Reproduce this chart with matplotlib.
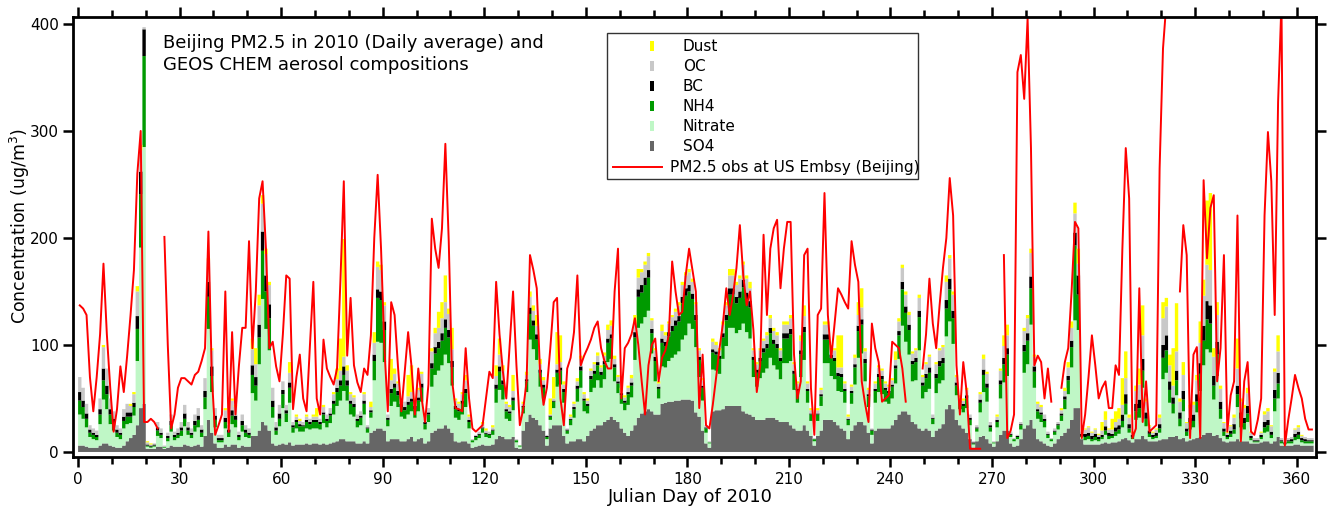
import numpy as np
import matplotlib
matplotlib.use("Agg")
import matplotlib.pyplot as plt
from matplotlib.patches import Rectangle
from matplotlib.lines import Line2D
from matplotlib.ticker import MultipleLocator

# GEOS-Chem daily aerosol components (ug/m3), day 0..364
so4 = [6,6,5,4,4,4,6,8,8,6, 5,4,4,6,10,13,16,25,41,45, 3,3,3,5,5,3,4,6,5,5,
       5,7,6,5,6,7,5,15,30,18, 8,4,4,7,5,7,7,4,6,5, 5,15,15,20,28,25,20,8,6,7,
       8,7,9,6,7,7,7,8,7,8, 8,7,8,7,8,9,10,12,12,10, 10,10,8,8,10,8,18,20,22,22,
       20,10,12,12,12,10,10,12,14,10, 12,13,8,10,18,20,22,22,25,22, 18,10,9,10,10,8,4,5,6,7,
       6,6,7,12,15,14,12,12,14,4, 3,20,28,35,32,30,25,20,6,22, 25,25,25,15,8,10,10,12,12,10,
       15,20,22,25,25,28,30,33,30,28, 22,18,15,20,25,32,36,38,40,38, 35,35,45,46,47,47,48,48,49,49,
       49,48,37,33,20,8,4,38,39,39, 40,43,43,43,43,43,38,36,35,33, 30,30,30,32,32,32,30,28,28,28,
       25,22,20,20,25,20,15,6,15,20, 30,30,30,28,25,22,20,12,20,25, 28,28,25,18,8,20,22,22,22,22,
       25,30,35,38,38,35,28,26,22,20, 22,20,14,20,22,26,40,44,40,30, 25,22,18,12,4,10,14,15,12,8,
       5,10,16,20,20,8,5,6,12,22, 25,30,22,12,10,8,6,5,8,12, 15,18,22,30,41,41,12,7,7,7,
       7,7,8,9,8,9,9,10,12,13, 11,9,12,12,15,12,10,10,10,11, 12,12,14,14,15,12,13,10,11,12,
       13,14,16,18,18,15,16,13,10,9, 10,10,12,10,10,10,8,8,8,9, 10,10,8,10,14,6,6,6,6,7,
       7,6,6,6,6]

nitrate = [29,25,18,10,8,7,20,41,32,20, 15,10,8,16,16,14,18,60,150,240, 2,1,2,10,8,1,6,13,6,8,
           10,17,10,8,13,16,9,25,85,38, 15,5,5,15,9,19,16,7,13,9, 8,40,33,62,115,90,75,24,10,17,
           33,21,37,12,15,12,12,14,14,14, 14,14,19,16,19,26,33,36,45,38, 25,23,15,17,25,10,14,47,81,80,
           64,14,31,35,30,23,21,23,24,22, 26,34,13,18,43,52,54,59,66,61, 44,22,21,25,32,14,5,6,7,11,
           8,7,9,34,43,35,19,17,25,5, 2,16,28,70,64,56,36,30,6,8, 16,36,38,31,9,15,22,35,48,28,
           21,36,38,42,35,40,54,54,36,27, 23,21,29,31,61,84,84,88,92,54, 31,15,35,33,38,41,43,46,56,60,
           71,67,61,37,28,10,4,39,37,34, 47,56,73,73,68,71,82,76,71,37, 31,39,44,46,56,49,47,40,55,55,
           60,36,26,50,61,26,14,4,14,23, 53,53,41,40,32,34,26,13,25,38, 60,64,41,24,8,26,34,32,25,23,
           25,34,52,80,65,56,38,41,73,30, 34,39,12,35,42,41,68,78,61,23, 15,15,23,13,3,9,23,41,35,11,
           3,13,34,45,51,6,5,6,9,52, 57,89,38,19,18,15,7,5,8,9, 14,22,32,49,82,73,2,4,5,3,
           4,3,4,7,4,4,6,7,11,22, 7,3,18,20,45,12,4,2,3,7, 56,62,32,22,38,12,25,5,10,11,
           24,43,65,78,75,34,55,18,5,3, 4,7,30,13,11,18,3,1,1,3, 8,9,5,28,36,2,1,2,2,4,
           5,3,2,2,2]

nh4 = [13,11,8,4,4,3,9,18,14,9, 7,4,4,7,7,6,8,30,50,85, 1,1,1,5,3,1,3,6,3,3,
       5,7,4,3,6,7,4,11,30,15, 7,2,2,6,4,8,7,3,6,4, 3,17,14,25,45,35,30,10,4,7,
       13,8,14,5,6,5,5,6,5,6, 6,5,8,6,7,10,13,14,15,14, 10,9,6,7,10,4,5,18,41,40,
       30,6,12,13,11,9,8,9,9,8, 10,13,5,7,17,20,21,23,25,24, 17,8,8,10,13,6,2,3,3,4,
       3,3,4,13,17,14,7,7,9,2, 1,6,10,24,22,19,13,10,2,3, 6,13,13,10,3,5,8,12,16,10,
       7,12,13,14,12,14,18,19,13,9, 8,7,10,11,21,29,29,30,31,19, 19,9,22,20,23,25,27,28,34,37,
       30,28,25,16,12,4,1,16,15,14, 20,24,31,31,28,30,34,31,29,16, 13,16,19,19,23,20,20,17,23,23,
       25,15,11,21,26,11,6,2,6,9, 22,22,17,17,14,14,11,5,10,16, 25,27,17,10,4,11,14,14,11,10,
       11,14,22,34,27,23,16,17,31,12, 13,15,5,14,16,16,26,30,24,9, 6,6,9,5,1,3,9,16,13,4,
       1,5,13,17,20,2,2,2,4,20, 22,34,15,7,7,6,3,2,3,4, 5,9,13,19,70,33,1,3,3,2,
       3,2,2,4,3,2,4,4,6,10, 4,2,8,9,16,7,3,2,2,4, 20,21,12,9,14,7,11,4,6,6,
       10,16,23,28,27,13,20,9,4,2, 3,4,12,8,6,8,2,1,1,2, 5,6,3,12,14,2,1,2,2,3,
       4,2,2,2,2]

bc = [8,6,5,3,2,2,5,11,8,5, 4,3,2,4,4,4,4,12,21,25, 1,1,1,3,2,0,2,4,2,2,
      3,5,3,2,4,4,3,6,14,9, 4,2,2,4,3,5,4,2,4,3, 2,9,8,12,18,15,13,6,3,5,
      4,3,5,2,2,2,1,2,2,2, 2,2,2,2,2,3,4,5,8,5, 3,3,2,2,3,1,2,6,8,8,
      8,2,4,4,4,3,3,3,3,3, 3,4,2,2,5,6,6,7,8,7, 6,3,2,3,4,2,0,1,1,1,
      1,1,1,4,5,4,2,2,3,0, 0,1,2,6,5,5,3,3,1,1, 1,3,3,3,1,1,2,3,4,2,
      2,3,3,3,3,3,4,4,3,2, 2,2,2,3,5,7,7,7,7,4, 4,2,4,4,4,5,5,5,6,7,
      6,5,5,3,2,1,0,3,3,3, 4,5,6,6,6,6,7,6,6,3, 3,3,4,4,5,4,4,3,5,5,
      5,3,2,4,5,2,1,0,1,2, 5,5,3,3,3,3,2,1,2,3, 5,5,4,2,1,2,3,3,2,2,
      2,3,4,7,6,5,3,4,6,3, 4,5,1,4,5,5,8,10,7,3, 2,2,3,2,1,1,3,5,4,2,
      0,2,4,6,6,1,0,1,1,6, 7,11,5,2,2,2,1,0,1,1, 2,3,4,6,12,18,2,3,3,3,
      3,2,2,4,3,2,4,4,6,9, 4,2,7,8,11,6,3,2,3,4, 12,14,8,6,9,6,8,3,5,6,
      7,10,14,17,17,9,12,7,3,2, 3,5,8,6,5,7,2,1,1,2, 5,5,3,8,10,1,1,1,2,3,
      3,2,2,1,1]

oc = [14,12,9,4,4,4,10,20,16,10, 7,4,4,7,8,6,8,23,20,2, 2,1,1,5,4,1,3,6,3,4,
      5,8,5,4,6,7,4,12,20,15, 7,3,3,7,4,9,8,3,6,4, 4,15,12,18,26,20,18,12,5,8,
      8,5,9,3,3,3,3,3,3,3, 3,3,5,4,5,6,8,9,9,9, 6,6,4,4,6,2,3,11,21,20,
      15,3,8,9,7,5,5,5,6,5, 7,9,3,4,11,13,13,14,16,15, 11,5,5,6,8,3,1,1,2,3,
      2,2,2,8,11,9,5,4,6,1, 0,2,4,10,9,8,5,4,1,1, 2,5,5,4,1,2,3,4,7,4,
      3,5,6,6,4,5,8,8,5,4, 3,3,4,4,8,11,12,12,13,8, 6,3,7,6,8,8,8,10,11,12,
      12,11,10,6,5,2,1,7,6,5, 8,9,12,12,11,12,14,13,12,6, 5,7,7,8,9,8,8,7,8,8,
      10,6,5,9,10,5,3,1,3,4, 9,9,7,7,5,6,5,2,4,6, 10,11,7,4,1,5,6,5,4,4,
      4,5,9,13,11,9,7,7,12,5, 9,10,3,9,10,10,17,19,15,5, 3,3,5,3,1,2,5,10,9,3,
      1,3,9,11,12,2,1,1,2,13, 14,22,9,5,5,4,2,1,2,2, 3,5,8,12,18,11,2,4,5,3,
      4,2,4,6,3,4,5,6,9,15, 6,2,12,14,22,10,4,2,3,6, 25,27,15,11,18,10,15,5,9,9,
      13,19,28,34,33,18,25,12,5,2, 4,6,16,10,9,12,3,2,2,2, 7,8,5,17,20,2,1,2,2,4,
      4,2,2,2,2]

dust = [0,0,0,0,0,0,0,2,0,0, 0,0,0,0,0,2,2,5,5,0, 1,1,0,0,0,0,0,0,0,0,
        0,0,0,0,0,0,0,0,2,2, 0,0,0,2,0,2,2,0,0,0, 0,10,15,10,8,5,3,0,0,0,
        0,0,10,0,2,2,0,2,0,2, 8,0,2,0,0,2,10,30,110,5, 2,2,0,0,2,0,5,10,5,5,
        3,0,20,5,2,0,0,20,25,2, 2,2,0,0,3,5,15,15,25,5, 20,2,2,2,5,2,0,0,0,2,
        2,0,2,10,15,5,2,2,15,0, 0,2,3,5,5,10,5,3,0,15, 20,30,25,3,0,2,2,3,3,2,
        2,2,2,3,2,3,5,5,3,2, 2,2,2,3,8,8,3,3,3,2, 2,2,6,3,2,2,3,3,3,3,
        3,3,2,2,2,0,0,3,3,2, 3,3,6,6,3,3,3,3,6,2, 2,2,2,3,3,3,3,2,3,3,
        3,2,2,5,10,2,2,0,2,2, 3,3,2,2,30,30,2,2,2,3, 12,18,3,2,0,2,2,2,2,2,
        2,8,3,3,3,3,2,2,3,2, 2,2,0,2,2,2,6,3,3,2, 2,2,2,0,0,0,2,4,2,0,
        0,2,2,10,10,0,0,0,0,3, 3,4,2,2,2,0,0,0,0,0, 2,3,5,6,10,14,0,1,1,1,
        1,1,8,8,1,10,10,10,25,25, 3,1,5,15,28,3,1,1,1,3, 15,8,10,35,45,3,12,1,3,3,
        5,20,15,60,72,8,12,3,1,1, 1,3,28,3,3,5,1,0,0,1, 3,3,1,3,15,0,0,0,0,1,
        2,1,0,0,0]

nan = float("nan")
# PM2.5 observed at US Embassy (daily mean, ug/m3); nan = missing
pm25 = [137,134,128,70,38,70,110,176,110,60, 19,40,80,56,90,128,170,260,300,28,
        28,31,28,22,nan,201,100,22,35,60, 69,69,66,63,72,75,85,97,206,72,
        16,25,35,150,19,112,35,80,116,116, 197,97,150,237,253,190,97,103,80,66,
        110,165,162,40,70,91,50,38,100,159, 50,35,105,78,70,63,78,160,253,90,
        144,81,65,56,78,72,109,200,259,190, 97,38,140,128,80,38,75,112,80,35,
        78,50,28,63,218,190,172,209,288,197, 66,41,40,38,97,50,22,19,22,25,
        50,75,69,159,110,75,50,100,150,81, 25,40,66,184,170,153,72,44,60,97,
        140,144,50,25,78,88,112,165,81,90, 97,105,116,122,97,85,78,78,150,190,
        50,97,102,110,125,100,66,35,81,100, 106,66,88,95,109,178,150,128,131,165,
        190,170,150,41,91,25,22,44,70,97, 120,153,128,147,172,212,165,137,150,114,
        56,81,203,128,190,209,217,153,190,215, 215,91,50,66,184,190,60,16,128,134,
        242,128,88,120,153,147,140,134,197,175, 159,66,45,28,120,97,84,47,50,53,
        103,100,97,78,47,nan,nan,nan,nan,78, 110,162,120,97,137,172,200,256,221,81,
        35,84,56,3,3,3,3,nan,nan,nan, nan,nan,nan,184,13,20,35,355,371,330,
        405,284,81,90,84,50,78,47,nan,nan, 60,84,97,150,215,209,13,35,70,109,
        81,50,60,66,41,41,81,72,190,284, 237,13,22,153,28,66,19,22,25,265,
        377,420,nan,nan,nan,150,212,184,13,91, 98,13,254,181,228,240,66,97,184,19,
        53,66,221,10,66,84,19,16,30,50, 221,299,253,128,327,420,6,30,50,72,
        60,50,31,21,21]

layers = [("SO4", so4, "#666666"), ("Nitrate", nitrate, "#bff7c6"),
          ("NH4", nh4, "#009a00"), ("BC", bc, "#000000"),
          ("OC", oc, "#c8c8c8"), ("Dust", dust, "#ffff00")]

W, H = 1333, 511
fig = plt.figure(figsize=(W / 100, H / 100), dpi=100)
ax = fig.add_axes([73 / W, 1 - 457 / H, (1316 - 73) / W, (457 - 17) / H])

def px(x, y):
    # pixel position -> figure fraction
    return x / W, 1 - y / H

edges = np.arange(len(so4) + 1)
base = np.zeros(len(so4))
for name, vals, col in layers:
    top = base + np.array(vals, dtype=float)
    ax.stairs(top, edges, baseline=base, fill=True, color=col, lw=0)
    base = top

ax.plot(np.arange(len(pm25)) + 0.5, pm25, color="#ff0000", lw=1.4)

ax.set_xlim(-1.5, 365.7)
ax.set_ylim(-4.7, 406.5)
ax.xaxis.set_major_locator(MultipleLocator(30))
ax.xaxis.set_minor_locator(MultipleLocator(10))
ax.yaxis.set_major_locator(MultipleLocator(100))
ax.tick_params(axis="both", which="both", direction="out", width=1.8, labelsize=11)
ax.tick_params(axis="x", which="major", length=7, top=True, bottom=True, pad=4)
ax.tick_params(axis="x", which="minor", length=5, top=True, bottom=True)
ax.tick_params(axis="y", which="major", length=7, left=True, right=True, pad=3)
for s in ax.spines.values():
    s.set_linewidth(2)

fig.text(*px(20, 226), "Concentration (ug/m$^{3}$)", rotation=90,
         ha="center", va="center", fontsize=12.5)
fig.text(*px(690, 497), "Julian Day of 2010", ha="center", va="center", fontsize=13)
fig.text(*px(163, 34), "Beijing PM2.5 in 2010 (Daily average) and\nGEOS CHEM aerosol compositions",
         ha="left", va="top", fontsize=13, linespacing=1.25)

# legend drawn by hand to match the boxed layout
x0, y0 = px(607, 179)
x1, y1 = px(918, 33)
fig.add_artist(Rectangle((x0, y0), x1 - x0, y1 - y0, transform=fig.transFigure,
                         facecolor="white", edgecolor="#333333", lw=1.0, zorder=5))
leg_rows = [("Dust", "#ffff00"), ("OC", "#c8c8c8"), ("BC", "#000000"),
            ("NH4", "#009a00"), ("Nitrate", "#bff7c6"), ("SO4", "#666666")]
for k, (name, col) in enumerate(leg_rows):
    yc = 46.5 + 20 * k
    rx, ry = px(650, yc + 5)
    fig.add_artist(Rectangle((rx, ry), 4 / W, 10 / H, transform=fig.transFigure,
                             facecolor=col, lw=0, zorder=6))
    fig.text(*px(683, yc), name, ha="left", va="center", fontsize=11, zorder=6)
lx0, ly = px(613, 167)
lx1, _ = px(662, 167)
fig.add_artist(Line2D([lx0, lx1], [ly, ly], transform=fig.transFigure,
                      color="#ff0000", lw=1.4, zorder=6))
fig.text(*px(670, 167), "PM2.5 obs at US Embsy (Beijing)", ha="left", va="center",
         fontsize=11, zorder=6)

fig.savefig("out.png", dpi=100)
